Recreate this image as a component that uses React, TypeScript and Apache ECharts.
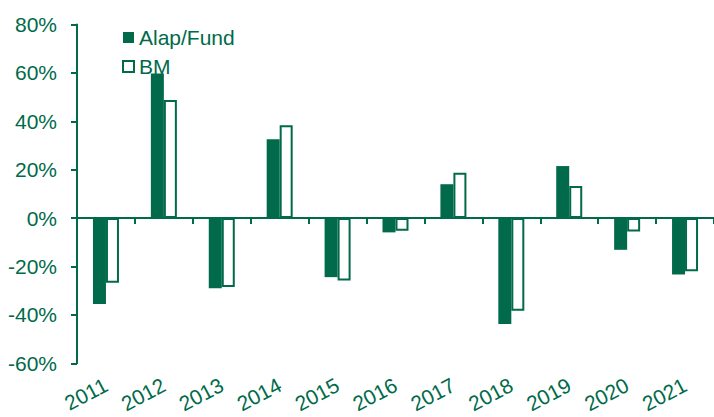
import React, { useEffect, useRef } from "react";
import * as echarts from "echarts";

const categories = ["2011", "2012", "2013", "2014", "2015", "2016", "2017", "2018", "2019", "2020", "2021"];
const fundValues = [-35.5, 59.8, -29.0, 32.6, -24.4, -5.9, 14.0, -43.8, 21.5, -13.1, -23.3];
const bmValues = [-26.7, 48.8, -28.5, 38.4, -25.8, -5.2, 18.7, -38.3, 13.3, -5.5, -22.0];
const seriesNames = ["Alap/Fund", "BM"];

const GREEN = "#006a4a";
const FONT = "'Liberation Sans', Arial, sans-serif";

export default function App() {
  const ref = useRef<HTMLDivElement>(null);
  useEffect(() => {
    document.body.style.margin = "0";
    const chart = echarts.init(ref.current!, undefined, { renderer: "svg" });
    chart.setOption({
      animation: false,
      backgroundColor: "#ffffff",
      textStyle: { fontFamily: FONT },
      legend: {
        orient: "vertical",
        left: 122,
        top: 27,
        padding: 0,
        itemWidth: 11,
        itemHeight: 11,
        itemGap: 8,
        icon: "rect",
        textStyle: { color: GREEN, fontSize: 21, fontFamily: FONT },
        data: seriesNames,
      },
      grid: { left: 77, right: 0, top: 24.5, bottom: 53.7, containLabel: false },
      xAxis: [
        {
          type: "category",
          data: categories,
          position: "bottom",
          axisLine: { onZero: true, lineStyle: { color: GREEN, width: 2 } },
          axisTick: { show: true, length: 6, lineStyle: { color: GREEN, width: 2 } },
          axisLabel: { show: false },
          splitLine: { show: false },
        },
        {
          type: "category",
          data: categories,
          position: "bottom",
          axisLine: { show: false, onZero: false },
          axisTick: { show: false },
          axisLabel: {
            show: true,
            rotate: 28,
            margin: 20,
            color: GREEN,
            fontSize: 21,
            fontFamily: FONT,
            interval: 0,
          },
          splitLine: { show: false },
        },
      ],
      yAxis: {
        type: "value",
        min: -60,
        max: 80,
        interval: 20,
        axisLine: { show: true, lineStyle: { color: GREEN, width: 2 } },
        axisTick: { show: true, length: 6, lineStyle: { color: GREEN, width: 2 } },
        axisLabel: { formatter: "{value}%", color: GREEN, fontSize: 21, fontFamily: FONT, margin: 20 },
        splitLine: { show: false },
      },
      series: [
        {
          name: seriesNames[0],
          type: "bar",
          xAxisIndex: 0,
          data: fundValues,
          barWidth: 13,
          barGap: "0%",
          itemStyle: { color: GREEN },
        },
        {
          name: seriesNames[1],
          type: "bar",
          xAxisIndex: 0,
          data: bmValues,
          barWidth: 13,
          barGap: "0%",
          itemStyle: { color: "#ffffff", borderColor: GREEN, borderWidth: 2 },
        },
      ],
    });
    return () => chart.dispose();
  }, []);
  return <div ref={ref} style={{ width: 714, height: 417, position: "absolute", left: 0, top: 0 }} />;
}
